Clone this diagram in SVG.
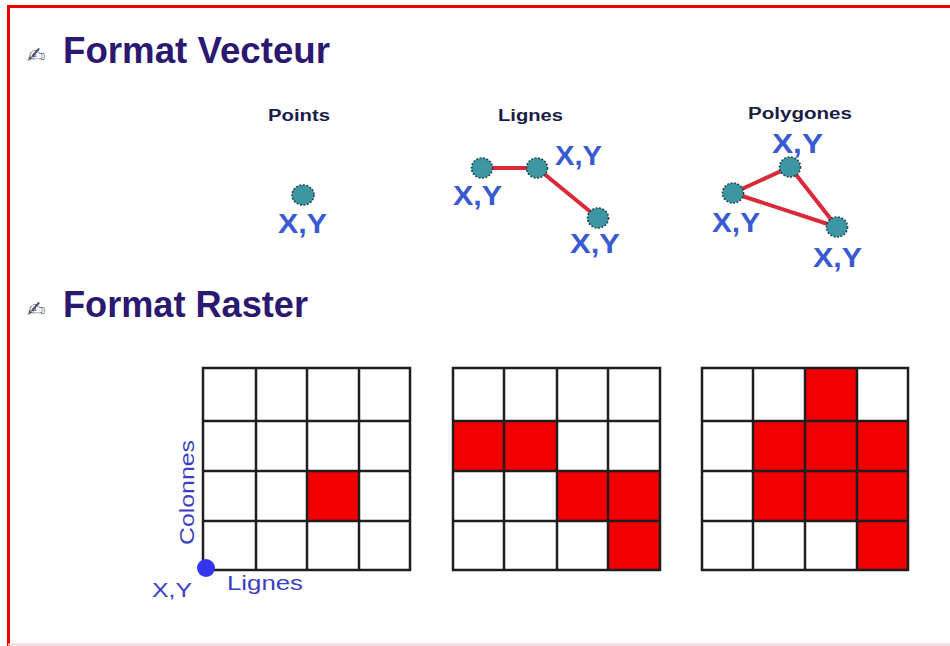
<svg xmlns="http://www.w3.org/2000/svg" width="950" height="646" viewBox="0 0 950 646">
<style>
.h{font-family:"Liberation Sans",Arial,sans-serif;font-weight:bold;font-size:36px;fill:#2b1870}
.ic{font-family:"DejaVu Sans",sans-serif;font-size:22px;fill:#4a4a6a}
.sub{font-family:"Liberation Sans",Arial,sans-serif;font-weight:bold;font-size:16px;fill:#1c1c48}
.xy{font-family:"Liberation Sans",Arial,sans-serif;font-weight:bold;font-size:28px;fill:#3a5ad2}
.lab{font-family:"Liberation Sans",Arial,sans-serif;font-size:21px;fill:#3a3fc0}
.dot{fill:#3d97a3;stroke:#1f4752;stroke-width:1.6;stroke-dasharray:2 1.5}
.seg{stroke:#d92a3a;stroke-width:4;stroke-linecap:round}
.cell{fill:#ffffff}
.red{fill:#f00000}
.grid{stroke:#1e1e1e;stroke-width:2.5;fill:none}
</style>
<rect width="950" height="646" fill="#ffffff"/>
<g id="frame">
<line x1="8" y1="6.5" x2="950" y2="6.5" stroke="#ee0000" stroke-width="3"/>
<line x1="8.5" y1="5" x2="8.5" y2="646" stroke="#ee0000" stroke-width="3"/>
<line x1="8" y1="644.5" x2="950" y2="644.5" stroke="#f7d6d6" stroke-width="2"/>
</g>
<g id="titre-vecteur">
<text class="ic" x="27" y="63">✍</text>
<text class="h" x="63" y="63" textLength="267" lengthAdjust="spacingAndGlyphs">Format Vecteur</text>
</g>
<g id="titre-raster">
<text class="ic" x="27" y="317">✍</text>
<text class="h" x="63" y="317" textLength="245" lengthAdjust="spacingAndGlyphs">Format Raster</text>
</g>
<g id="connectors">
<line class="seg" x1="482" y1="168" x2="537" y2="168"/>
<line class="seg" x1="537" y1="168" x2="598" y2="218"/>
<line class="seg" x1="790" y1="167" x2="733" y2="193"/>
<line class="seg" x1="733" y1="193" x2="837" y2="227"/>
<line class="seg" x1="790" y1="167" x2="837" y2="227"/>
</g>
<g id="points">
<text class="sub" x="268" y="121" textLength="62" lengthAdjust="spacingAndGlyphs">Points</text>
<ellipse class="dot" cx="303" cy="195" rx="11" ry="10"/>
<text class="xy" x="278" y="233" textLength="49" lengthAdjust="spacingAndGlyphs">X,Y</text>
</g>
<g id="lignes">
<text class="sub" x="498" y="121" textLength="65" lengthAdjust="spacingAndGlyphs">Lignes</text>
<ellipse class="dot" cx="482" cy="168" rx="10.5" ry="10"/>
<ellipse class="dot" cx="537" cy="168" rx="10.5" ry="10"/>
<ellipse class="dot" cx="598" cy="218" rx="10.5" ry="10"/>
<text class="xy" x="555" y="165" textLength="47" lengthAdjust="spacingAndGlyphs">X,Y</text>
<text class="xy" x="453" y="205" textLength="49" lengthAdjust="spacingAndGlyphs">X,Y</text>
<text class="xy" x="570" y="253" textLength="50" lengthAdjust="spacingAndGlyphs">X,Y</text>
</g>
<g id="polygones">
<text class="sub" x="748" y="119" textLength="104" lengthAdjust="spacingAndGlyphs">Polygones</text>
<ellipse class="dot" cx="790" cy="167" rx="10.5" ry="10"/>
<ellipse class="dot" cx="733" cy="193" rx="10.5" ry="10"/>
<ellipse class="dot" cx="837" cy="227" rx="10.5" ry="10"/>
<text class="xy" x="772" y="153" textLength="51" lengthAdjust="spacingAndGlyphs">X,Y</text>
<text class="xy" x="712" y="232" textLength="48" lengthAdjust="spacingAndGlyphs">X,Y</text>
<text class="xy" x="813" y="267" textLength="49" lengthAdjust="spacingAndGlyphs">X,Y</text>
</g>
<g id="raster-point">
<rect class="cell" x="203" y="368" width="207" height="202"/>
<rect class="red" x="307" y="471" width="52" height="50"/>
<path class="grid" d="M203 368H410V570H203Z M256 368V570 M307 368V570 M359 368V570 M203 421H410 M203 471H410 M203 521H410"/>
<circle cx="206" cy="568" r="9" fill="#3434f0"/>
<text class="lab" transform="translate(194,545) rotate(-90)" textLength="105" lengthAdjust="spacingAndGlyphs">Colonnes</text>
<text class="lab" x="227" y="590" textLength="76" lengthAdjust="spacingAndGlyphs">Lignes</text>
<text class="lab" x="152" y="597" font-size="19" textLength="40" lengthAdjust="spacingAndGlyphs">X,Y</text>
</g>
<g id="raster-ligne">
<rect class="cell" x="453" y="368" width="207" height="202"/>
<rect class="red" x="453" y="421" width="104" height="50"/>
<rect class="red" x="557" y="471" width="103" height="50"/>
<rect class="red" x="608" y="521" width="52" height="49"/>
<path class="grid" d="M453 368H660V570H453Z M504 368V570 M557 368V570 M608 368V570 M453 421H660 M453 471H660 M453 521H660"/>
</g>
<g id="raster-polygone">
<rect class="cell" x="702" y="368" width="206" height="202"/>
<rect class="red" x="805" y="368" width="52" height="53"/>
<rect class="red" x="753" y="421" width="155" height="100"/>
<rect class="red" x="857" y="521" width="51" height="49"/>
<path class="grid" d="M702 368H908V570H702Z M753 368V570 M805 368V570 M857 368V570 M702 421H908 M702 471H908 M702 521H908"/>
</g>
</svg>
